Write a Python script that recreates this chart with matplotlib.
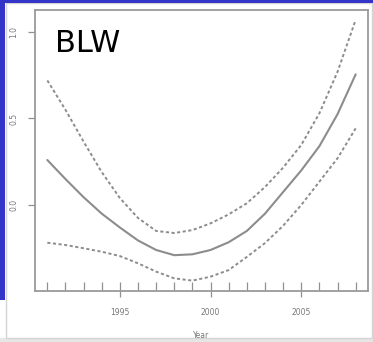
import matplotlib
matplotlib.use("Agg")
import matplotlib.pyplot as plt
from matplotlib.patches import Rectangle

years = list(range(1991, 2009))
fit = [0.26, 0.15, 0.045, -0.05, -0.13, -0.205, -0.26, -0.29, -0.285,
       -0.26, -0.215, -0.15, -0.05, 0.075, 0.20, 0.34, 0.525, 0.755]
upper = [0.72, 0.55, 0.366, 0.19, 0.04, -0.075, -0.15, -0.162, -0.145,
         -0.106, -0.054, 0.01, 0.104, 0.216, 0.347, 0.53, 0.77, 1.07]
lower = [-0.218, -0.231, -0.25, -0.27, -0.295, -0.337, -0.385, -0.424, -0.437,
         -0.414, -0.376, -0.30, -0.22, -0.12, 0.0, 0.135, 0.27, 0.443]
xticks = [1995, 2000, 2005]
yticks = [0.0, 0.5, 1.0]
ytick_labels = ["0.0", "0.5", "1.0"]
panel_label = "BLW"
xlabel = "Year"

W, H = 373, 342
fig = plt.figure(figsize=(W / 100, H / 100), dpi=100)
fig.patch.set_facecolor("white")

# slide background / frame
blue = "#3434c8"
fig.add_artist(Rectangle((0, 0), 1, 1, transform=fig.transFigure,
                         facecolor="white", edgecolor="none", zorder=-10))
fig.add_artist(Rectangle((0, 0), 1, 4 / H, transform=fig.transFigure,
                         facecolor="#e6e6e6", edgecolor="none", zorder=-9))
fig.add_artist(Rectangle((6 / W, 4 / H), 1 - 7 / W, 1 - 7 / H, transform=fig.transFigure,
                         facecolor="white", edgecolor="#d4d4d4", lw=1.0, zorder=-8))
fig.add_artist(Rectangle((0, 1 - 300 / H), 5 / W, 300 / H, transform=fig.transFigure,
                         facecolor=blue, edgecolor="none", zorder=-7))
fig.add_artist(Rectangle((0, 1 - 3 / H), 1, 3 / H, transform=fig.transFigure,
                         facecolor=blue, edgecolor="none", zorder=-7))

ax = fig.add_axes([35 / W, (H - 291) / H, (368 - 35) / W, (291 - 10) / H])
ax.set_facecolor("none")
line_c = "#8c8c8c"
ax.plot(years, fit, color=line_c, lw=1.5, solid_capstyle="round")
ax.plot(years, upper, color=line_c, lw=1.4, linestyle=(0, (1.6, 1.3)))
ax.plot(years, lower, color=line_c, lw=1.4, linestyle=(0, (1.6, 1.3)))

# rug
ax.vlines(years, 0, 0.033, transform=ax.get_xaxis_transform(), color="#909090", lw=0.9)

ax.set_xlim(1990.32, 2008.68)
ax.set_ylim(-0.497, 1.127)
ax.set_xticks(xticks)
ax.set_xticklabels([str(t) for t in xticks])
ax.set_yticks(yticks)
ax.set_yticklabels(ytick_labels, rotation=90, va="center")
for s in ax.spines.values():
    s.set_color("#9a9a9a")
    s.set_linewidth(1.3)
ax.tick_params(axis="x", length=4, width=0.9, color="#909090", labelsize=5.5,
               labelcolor="#777777", pad=8)
ax.tick_params(axis="y", length=5, width=0.9, color="#909090", labelsize=5.5,
               labelcolor="#777777", pad=7)
ax.set_xlabel(xlabel, fontsize=5.5, color="#777777", labelpad=10)

ax.text(55 / W, 1 - 43 / H, panel_label, transform=fig.transFigure, fontsize=22,
        color="black", va="center", ha="left", family="DejaVu Sans")

fig.savefig("out.png", dpi=100)
